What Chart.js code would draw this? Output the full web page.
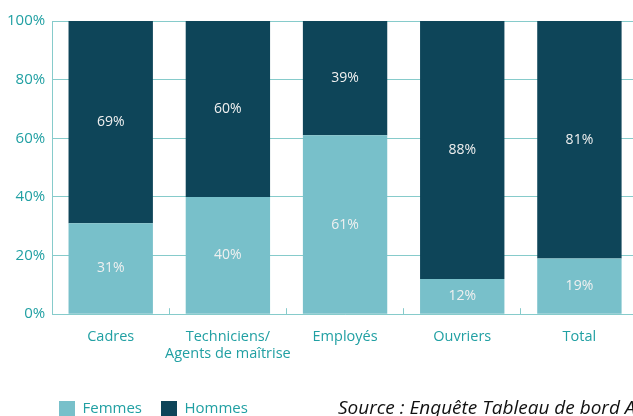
<!DOCTYPE html>
<html>
<head>
<meta charset="utf-8">
<script src="https://cdn.jsdelivr.net/npm/chart.js@4"></script>
<style>
  body { margin: 0; overflow: hidden; background: #fff; }
  #wrap { position: relative; width: 640px; height: 427px; }
  #source { position: absolute; left: 338px; top: 394px; font-family: "Open Sans", sans-serif; font-style: italic; font-size: 19px; color: #111; white-space: nowrap; }
</style>
</head>
<body>
<div id="wrap">
  <canvas id="myBarChart" width="640" height="427"></canvas>
  <div id="source">Source : Enquête Tableau de bord A</div>
</div>
<script>
var categories = [['Cadres'], ['Techniciens/', 'Agents de maîtrise'], ['Employés'], ['Ouvriers'], ['Total']];
var femmes = [31, 40, 61, 12, 19];
var hommes = [69, 60, 39, 88, 81];
var yTicks = [0, 20, 40, 60, 80, 100];

var teal = '#21a0a3';
var gridColor = '#86cbcb';

// draws the % value in the middle of each bar segment
var barLabels = {
    id: 'barLabels',
    afterDatasetsDraw: function(chart) {
        var ctx = chart.ctx;
        ctx.save();
        ctx.fillStyle = '#f0f0f0';
        ctx.font = '14px "Open Sans"';
        ctx.textAlign = 'center';
        ctx.textBaseline = 'middle';
        chart.data.datasets.forEach(function(ds, i) {
            chart.getDatasetMeta(i).data.forEach(function(bar, j) {
                var p = bar.getProps(['x', 'y', 'base'], true);
                ctx.fillText(ds.data[j] + '%', p.x, (p.y + p.base) / 2);
            });
        });
        ctx.restore();
    }
};

// push the legend in line with the plot
var legendShift = {
    id: 'legendShift',
    afterLayout: function(chart) {
        chart.legend.left += 40;
    }
};

document.addEventListener("DOMContentLoaded", function() {
    var ctx = document.getElementById('myBarChart').getContext('2d');
    var myBarChart = new Chart(ctx, {
        type: 'bar',
        data: {
            labels: categories,
            datasets: [{
                label: 'Femmes',
                data: femmes,
                backgroundColor: '#78c0ca'
            }, {
                label: 'Hommes',
                data: hommes,
                backgroundColor: '#0e4559'
            }]
        },
        options: {
            responsive: false,
            animation: false,
            layout: { padding: { top: 21, right: 2, left: 0, bottom: 0 } },
            datasets: { bar: { categoryPercentage: 1, barPercentage: 0.72 } },
            scales: {
                x: {
                    stacked: true,
                    afterFit: function(axis) { axis.height -= 1; },
                    grid: { display: true, offset: true, drawOnChartArea: false, tickLength: -6, color: gridColor },
                    border: { display: true, color: gridColor },
                    ticks: { color: teal, font: { family: 'Open Sans', size: 14.5 }, padding: 20, maxRotation: 0, autoSkip: false }
                },
                y: {
                    stacked: true,
                    min: 0,
                    max: 100,
                    afterBuildTicks: function(axis) {
                        axis.ticks = yTicks.map(function(v) { return { value: v }; });
                    },
                    grid: { color: gridColor, drawTicks: false },
                    border: { display: true, color: gridColor },
                    ticks: {
                        color: teal,
                        font: { family: 'Open Sans', size: 15 },
                        padding: 7,
                        callback: function(v) { return v + '%'; }
                    }
                }
            },
            plugins: {
                legend: {
                    position: 'bottom',
                    align: 'start',
                    labels: {
                        boxWidth: 16,
                        boxHeight: 16,
                        color: teal,
                        font: { family: 'Open Sans', size: 15 },
                        padding: 19
                    }
                },
                tooltip: { enabled: false }
            }
        },
        plugins: [barLabels, legendShift]
    });
});
</script>
</body>
</html>
